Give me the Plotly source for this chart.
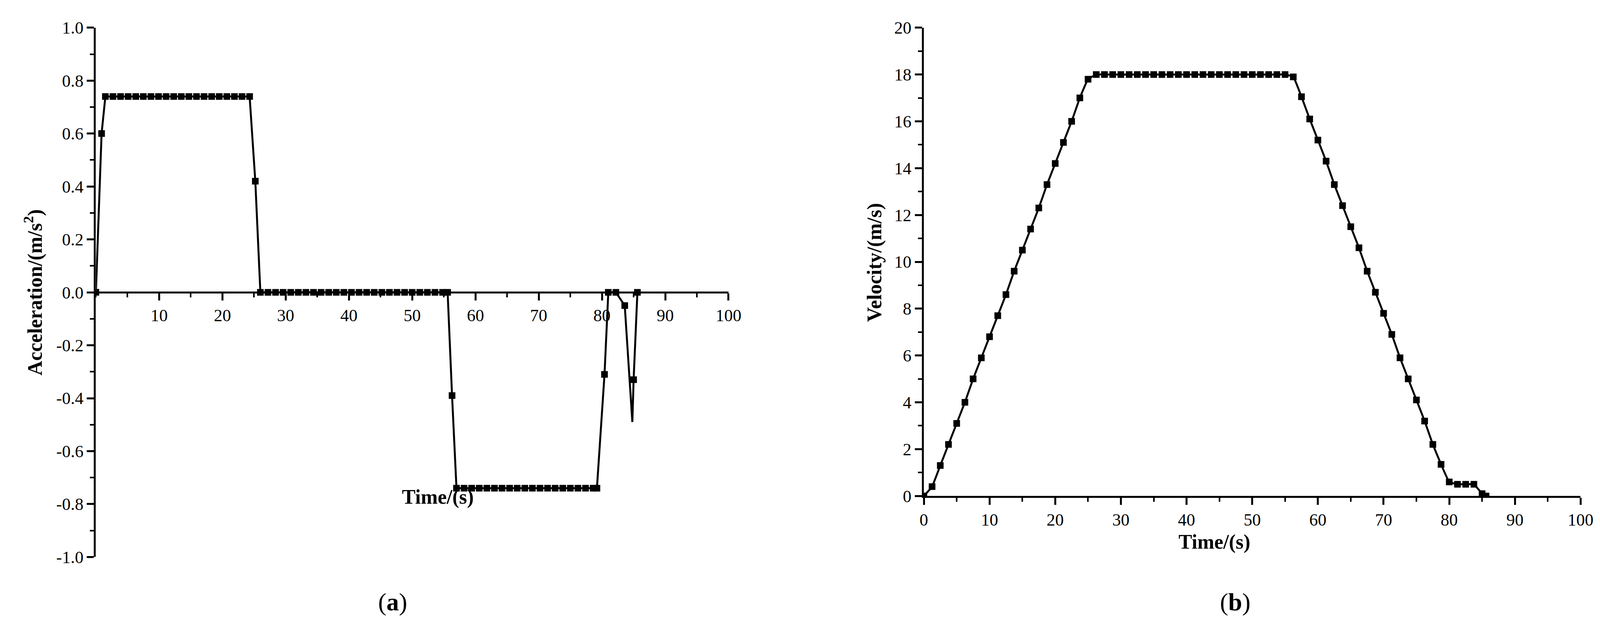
import plotly.graph_objects as go

acc_t = [0, 0.9, 1.5, 2.7, 3.9, 5.1, 6.3, 7.5, 8.7, 9.9, 11.1, 12.3, 13.5, 14.7, 15.9, 17.1, 18.3,
         19.5, 20.7, 21.9, 23.1, 24.3, 25.2, 26.0, 27.2, 28.4, 29.6, 30.8, 32.0, 33.2, 34.4, 35.6,
         36.8, 38.0, 39.2, 40.4, 41.6, 42.8, 44.0, 45.2, 46.4, 47.6, 48.8, 50.0, 51.2, 52.4, 53.6,
         54.8, 55.6, 56.3, 57.0, 58.2, 59.4, 60.6, 61.8, 63.0, 64.2, 65.4, 66.6, 67.8, 69.0, 70.2,
         71.4, 72.6, 73.8, 75.0, 76.2, 77.4, 78.6, 79.2, 80.4, 81.0, 82.2, 83.6, 84.8, 85.0, 85.6]
acc_v = [0, 0.6, 0.74, 0.74, 0.74, 0.74, 0.74, 0.74, 0.74, 0.74, 0.74, 0.74, 0.74, 0.74, 0.74, 0.74, 0.74,
         0.74, 0.74, 0.74, 0.74, 0.74, 0.42, 0, 0, 0, 0, 0, 0, 0, 0, 0,
         0, 0, 0, 0, 0, 0, 0, 0, 0, 0, 0, 0, 0, 0, 0,
         0, 0, -0.39, -0.74, -0.74, -0.74, -0.74, -0.74, -0.74, -0.74, -0.74, -0.74, -0.74, -0.74, -0.74,
         -0.74, -0.74, -0.74, -0.74, -0.74, -0.74, -0.74, -0.74, -0.31, 0, 0, -0.05, -0.49, -0.33, 0]
acc_marker_shown = [1] * 74 + [0, 1, 1]

vel_t = [0, 1.25, 2.5, 3.75, 5, 6.25, 7.5, 8.75, 10, 11.25, 12.5, 13.75, 15, 16.25, 17.5, 18.75, 20,
         21.25, 22.5, 23.75, 25, 26.25, 27.5, 28.75, 30, 31.25, 32.5, 33.75, 35, 36.25, 37.5, 38.75,
         40, 41.25, 42.5, 43.75, 45, 46.25, 47.5, 48.75, 50, 51.25, 52.5, 53.75, 55, 56.25, 57.5,
         58.75, 60, 61.25, 62.5, 63.75, 65, 66.25, 67.5, 68.75, 70, 71.25, 72.5, 73.75, 75, 76.25,
         77.5, 78.75, 80, 81.25, 82.5, 83.75, 85, 85.6]
vel_v = [0, 0.4, 1.3, 2.2, 3.1, 4.0, 5.0, 5.9, 6.8, 7.7, 8.6, 9.6, 10.5, 11.4, 12.3, 13.3, 14.2,
         15.1, 16.0, 17.0, 17.8, 18, 18, 18, 18, 18, 18, 18, 18, 18, 18, 18,
         18, 18, 18, 18, 18, 18, 18, 18, 18, 18, 18, 18, 18, 17.9, 17.05,
         16.1, 15.2, 14.3, 13.3, 12.4, 11.5, 10.6, 9.6, 8.7, 7.8, 6.9, 5.9, 5.0, 4.1, 3.2,
         2.2, 1.35, 0.6, 0.5, 0.5, 0.5, 0.1, 0]

acc_ticks = [-1.0, -0.8, -0.6, -0.4, -0.2, 0.0, 0.2, 0.4, 0.6, 0.8, 1.0]
acc_ticklabels = ["-1.0", "-0.8", "-0.6", "-0.4", "-0.2", "0.0", "0.2", "0.4", "0.6", "0.8", "1.0"]
acc_xticks = [10, 20, 30, 40, 50, 60, 70, 80, 90, 100]
vel_ticks = [0, 2, 4, 6, 8, 10, 12, 14, 16, 18, 20]
vel_xticks = [0, 10, 20, 30, 40, 50, 60, 70, 80, 90, 100]

FONT = "Liberation Serif"
fig = go.Figure()
fig.add_trace(go.Scatter(x=acc_t, y=acc_v, mode="lines+markers", xaxis="x", yaxis="y",
                         line=dict(color="black", width=5),
                         marker=dict(symbol="square", size=17, color="black", opacity=acc_marker_shown)))
fig.add_trace(go.Scatter(x=vel_t, y=vel_v, mode="lines+markers", xaxis="x2", yaxis="y2",
                         line=dict(color="black", width=5, shape="spline", smoothing=0.3),
                         marker=dict(symbol="square", size=17, color="black")))

ax = dict(showline=True, linecolor="black", linewidth=5, ticks="outside", ticklen=18, tickwidth=5,
          tickcolor="black", showgrid=False, zeroline=False, tickfont=dict(family=FONT, size=44, color="black"),
          minor=dict(ticks="outside", ticklen=10, tickwidth=4, tickcolor="black"))
ydom_a = [0.1286, 0.9757]
fig.update_layout(
    width=4110, height=1648, margin=dict(l=0, r=0, t=0, b=0),
    paper_bgcolor="white", plot_bgcolor="white", showlegend=False,
    xaxis=dict(ax, domain=[0.0557, 0.454], range=[0, 100], tickvals=acc_xticks, anchor="free",
               position=(ydom_a[0] + ydom_a[1]) / 2, minor=dict(ax["minor"], dtick=5, tick0=0)),
    yaxis=dict(ax, domain=ydom_a, range=[-1, 1], tickvals=acc_ticks, ticktext=acc_ticklabels,
               anchor="x", minor=dict(ax["minor"], dtick=0.1, tick0=0)),
    xaxis2=dict(ax, domain=[0.577, 0.9905], range=[0, 100], tickvals=vel_xticks, anchor="y2",
                minor=dict(ax["minor"], dtick=5, tick0=0)),
    yaxis2=dict(ax, domain=[0.2263, 0.9757], range=[0, 20], tickvals=vel_ticks, anchor="x2",
                minor=dict(ax["minor"], dtick=1, tick0=0)),
)
tf = dict(family=FONT, size=52, color="black")
lf = dict(family=FONT, size=64, color="black")
ann = [
    dict(text="<b>Acceleration/(m/s<sup>2</sup>)</b>", x=0.008, y=0.552, textangle=-90, font=tf),
    dict(text="<b>Time/(s)</b>", x=0.248, y=0.205, font=tf),
    dict(text="<b>Velocity/(m/s)</b>", x=0.546, y=0.6, textangle=-90, font=tf),
    dict(text="<b>Time/(s)</b>", x=0.783, y=0.133, font=tf),
    dict(text="(<b>a</b>)", x=0.233, y=0.033, font=lf),
    dict(text="(<b>b</b>)", x=0.783, y=0.033, font=lf),
]
for a in ann:
    fig.add_annotation(xref="paper", yref="paper", showarrow=False, **a)
fig.write_html("out.html")
